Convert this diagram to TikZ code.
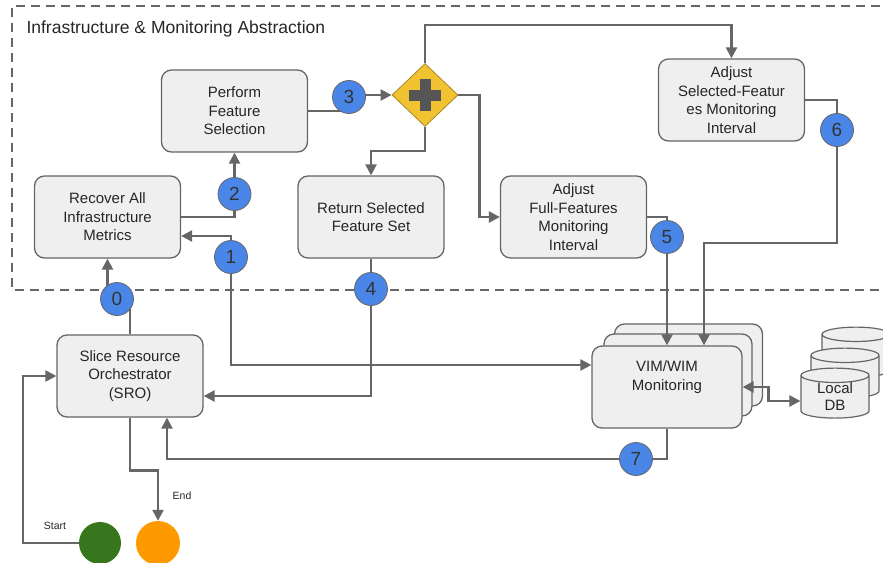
\documentclass[tikz,border=0pt]{standalone}
\usepackage{fontspec}
\setmainfont{Liberation Sans}
\usetikzlibrary{arrows.meta,shapes,positioning,backgrounds}

\definecolor{linegray}{HTML}{666666}
\definecolor{boxfill}{HTML}{EFEFEF}
\definecolor{stepblue}{HTML}{4A86E8}
\definecolor{gwyellow}{HTML}{F1C232}
\definecolor{plusgray}{HTML}{555555}
\definecolor{startgreen}{HTML}{38761D}
\definecolor{endorange}{HTML}{FF9900}

\begin{document}
\begin{tikzpicture}[x=1pt,y=-1pt,
  every node/.style={font=\fontsize{15}{18.5}\selectfont,text=black!85},
  >={Triangle[length=11pt,width=11pt]}]

  \tikzset{proc/.style =
    {draw=linegray, line width=1.3pt, fill=boxfill, rounded corners=10pt,
     minimum width=146pt, minimum height=82pt, align=center, inner sep=2pt}}
  \tikzset{num/.style =
    {circle, draw=linegray, line width=0.8pt, fill=stepblue, minimum size=33pt,
     inner sep=0pt, text=black!80, font=\fontsize{19}{19}\selectfont}}
  \tikzset{flow/.style = {draw=linegray, line width=2.4pt, ->}}
  \tikzset{store/.style =
    {cylinder, shape border rotate=90, draw=linegray, line width=1.2pt,
     fill=boxfill, aspect=0.4, minimum width=68pt, minimum height=44pt,
     inner sep=0pt, align=center, font=\fontsize{15}{17}\selectfont}}

  \useasboundingbox (0,0) rectangle (883,562);

  \node[anchor=west, font=\fontsize{17.5}{20}\selectfont] (title) at (23,29)
    {Infrastructure \& Monitoring Abstraction};

  % process boxes
  \node[proc] (perform) at (234.5,111) {Perform\\Feature\\Selection};
  \node[proc] (recover) at (107.5,217) {Recover All\\Infrastructure\\Metrics};
  \node[proc] (ret) at (371,217) {Return Selected\\Feature Set};
  \node[proc] (adjfull) at (573.5,217) {Adjust\\Full-Features\\Monitoring\\Interval};
  \node[proc] (adjsel) at (731.5,100) {Adjust\\Selected-Featur\\es Monitoring\\Interval};
  \node[proc] (sro) at (130,376) {Slice Resource\\Orchestrator\\(SRO)};
  \node[proc, minimum width=150pt] (vim) at (667,387) {};
  \node[align=center] (vimtext) at ([yshift=10pt]vim.center) {VIM/WIM\\Monitoring};
  \node[store] (db) at (835,397) {Local\\DB};

  % gateway
  \node[diamond, draw=gwyellow!70!black, line width=0.8pt, fill=gwyellow,
    minimum width=66pt, minimum height=63pt, inner sep=0pt] (gw) at (425,95) {};
  \fill[plusgray] ([xshift=-16pt,yshift=-5.5pt]gw.center) rectangle ([xshift=16pt,yshift=5.5pt]gw.center);
  \fill[plusgray] ([xshift=-5.5pt,yshift=-16pt]gw.center) rectangle ([xshift=5.5pt,yshift=16pt]gw.center);

  % step numbers
  \node[num] (c0) at (117,299) {0};
  \node[num] (c1) at (231,257) {1};
  \node[num] (c2) at (234.5,194) {2};
  \node[num] (c3) at (349,97) {3};
  \node[num] (c4) at (371,289) {4};
  \node[num] (c5) at (667,237) {5};
  \node[num] (c6) at (837,130) {6};
  \node[num] (c7) at (636,459) {7};

  % start / end
  \node[circle, fill=startgreen, minimum size=42pt, inner sep=0pt] (start) at (100,543) {};
  \node[circle, fill=endorange, minimum size=44pt, inner sep=0pt] (finish) at (158,543) {};
  \node[font=\fontsize{10.5}{12}\selectfont] (startlbl) at (55,526) {Start};
  \node[font=\fontsize{10.5}{12}\selectfont] (endlbl) at (182,496) {End};

  \begin{pgfonlayer}{background}
    \draw[linegray, line width=2pt, dash pattern=on 9pt off 6pt]
      (895,6) -- (12,6) -- (12,290) -- (895,290);
    \node[proc, minimum width=148pt] (vimback) at (688.5,365) {};
    \node[proc, minimum width=148pt] (vimmid) at (678,375) {};
    \node[store] (dbback) at (856,356) {\phantom{Local}\\\phantom{DB}};
    \node[store] (dbmid) at (845,377) {\phantom{Local}\\\phantom{DB}};

    \coordinate (bend6) at (837,243);
    \draw[flow] (sro.north) |- (c0.center) -| (recover.south);
    \draw[flow,<->] ([yshift=-19pt]recover.east) -| (c1.center) |- ([yshift=22pt]vim.west);
    \draw[flow] (recover.east) -| (perform.south);
    \draw[flow] (perform.east) -| (c3.center) |- (gw.west);
    \draw[flow] (gw.north) -- ++(0,-38) -| (adjsel.north);
    \draw[flow] (gw.south) -- ++(0,24) -| (ret.north);
    \draw[flow] (gw.east) -- ++(21,0) |- (adjfull.west);
    \draw[flow] (adjfull.east) -| (vim.north);
    \draw[flow] (adjsel.east) -| (bend6) -| ([xshift=37pt]vim.north);
    \draw[flow] (ret.south) |- ([yshift=-20pt]sro.east);
    \draw[flow] (vim.south) |- (c7.center) -| ([xshift=37pt]sro.south);
    \draw[flow] (sro.south) -- ++(0,53) -| (finish.north);
    \draw[flow] (start.west) -- ++(-56,0) |- (sro.west);
    \draw[flow,<->] (vim.east) -- ++(26,0) |- ([yshift=-4pt]db.west);
  \end{pgfonlayer}

\end{tikzpicture}
\end{document}
